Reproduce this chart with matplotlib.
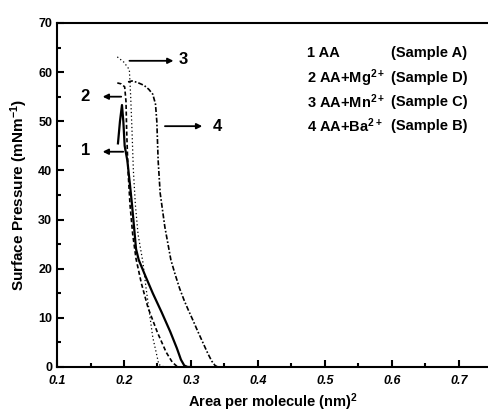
import matplotlib
matplotlib.use("Agg")
import matplotlib.pyplot as plt
from matplotlib.ticker import MultipleLocator

plt.rcParams['font.family'] = ['Liberation Sans', 'DejaVu Sans']
plt.rcParams['mathtext.fontset'] = 'custom'
plt.rcParams['mathtext.rm'] = 'Liberation Sans:bold'
plt.rcParams['mathtext.default'] = 'rm'

# isotherm curves: area per molecule (nm^2) vs surface pressure (mN/m)
area_1 = [0.191, 0.194, 0.197, 0.199, 0.201, 0.205, 0.209, 0.212, 0.215, 0.218, 0.222,
          0.232, 0.243, 0.256, 0.269, 0.279, 0.285, 0.290, 0.295, 0.300]
pres_1 = [45.5, 50.0, 53.3, 50.0, 45.0, 42.0, 37.0, 33.0, 28.5, 24.0, 21.8,
          18.5, 15.0, 11.2, 7.2, 3.8, 1.5, 0.3, 0.0, 0.0]

area_2 = [0.190, 0.196, 0.201, 0.203, 0.204, 0.206, 0.209, 0.213, 0.218, 0.226,
          0.236, 0.250, 0.263, 0.272, 0.280, 0.300]
pres_2 = [57.8, 57.6, 57.0, 54.0, 48.0, 40.0, 33.0, 27.0, 22.0, 17.0,
          12.0, 7.0, 3.0, 1.0, 0.0, 0.0]

area_3 = [0.190, 0.200, 0.208, 0.210, 0.212, 0.214, 0.217, 0.221, 0.228, 0.233,
          0.238, 0.243, 0.248, 0.252, 0.260, 0.290]
pres_3 = [63.1, 62.0, 60.5, 55.0, 48.0, 40.0, 33.0, 27.0, 21.5, 16.0,
          11.0, 6.0, 3.0, 0.5, 0.0, 0.0]

area_4 = [0.206, 0.212, 0.220, 0.230, 0.237, 0.243, 0.247, 0.249, 0.251, 0.254,
          0.261, 0.270, 0.276, 0.283, 0.290, 0.296, 0.303, 0.310, 0.318, 0.325,
          0.331, 0.336, 0.340, 0.350]
pres_4 = [58.0, 58.2, 57.9, 57.3, 56.5, 55.5, 53.5, 50.0, 42.0, 35.4,
          28.5, 21.8, 19.0, 16.0, 13.5, 11.6, 9.5, 7.3, 4.9, 2.8,
          1.2, 0.3, 0.0, 0.0]

legend_left = ["1 AA", "2 AA+Mg$^{2+}$", "3 AA+Mn$^{2+}$", "4 AA+Ba$^{2+}$"]
legend_right = ["(Sample A)", "(Sample D)", "(Sample C)", "(Sample B)"]
legend_y = [63.9, 58.8, 53.9, 49.0]

fig = plt.figure(figsize=(4.89, 4.13), dpi=100)
ax = fig.add_axes([0.1166, 0.1114, 0.8834, 0.833])

ax.plot(area_1, pres_1, color='k', lw=1.6, ls='-')
ax.plot(area_2, pres_2, color='k', lw=1.2, ls=(0, (2.5, 1.5)))
ax.plot(area_3, pres_3, color='k', lw=0.9, ls=(0, (1, 2)))
ax.plot(area_4, pres_4, color='k', lw=1.2, ls=(0, (3, 1.2, 1, 1.2)))

arrow = dict(arrowstyle='-|>', color='k', lw=1.3, mutation_scale=8)
ax.annotate('', xy=(0.278, 62.3), xytext=(0.204, 62.3), arrowprops=arrow)
ax.annotate('', xy=(0.164, 55.0), xytext=(0.200, 55.0), arrowprops=arrow)
ax.annotate('', xy=(0.164, 43.8), xytext=(0.203, 43.8), arrowprops=arrow)
ax.annotate('', xy=(0.321, 49.0), xytext=(0.257, 49.0), arrowprops=arrow)
lbl = dict(fontsize=12, fontweight='bold', va='center', ha='center')
ax.text(0.288, 62.6, '3', **lbl)
ax.text(0.142, 55.0, '2', **lbl)
ax.text(0.143, 44.0, '1', **lbl)
ax.text(0.339, 49.0, '4', **lbl)

for left, right, yy in zip(legend_left, legend_right, legend_y):
    ax.text(0.473, yy, left, fontsize=10.5, fontweight='bold', va='center', ha='left')
    ax.text(0.598, yy, right, fontsize=10.5, fontweight='bold', va='center', ha='left')

ax.set_xlim(0.1, 0.745)
ax.set_ylim(0, 70)
ax.xaxis.set_major_locator(MultipleLocator(0.1))
ax.xaxis.set_minor_locator(MultipleLocator(0.05))
ax.yaxis.set_major_locator(MultipleLocator(10))
ax.yaxis.set_minor_locator(MultipleLocator(5))
ax.tick_params(which='both', direction='in', top=False, right=False, width=1.5)
ax.tick_params(which='major', length=5, labelsize=9)
ax.tick_params(which='minor', length=3)
ax.tick_params(axis='x', which='major', pad=6)
for lab in ax.get_xticklabels() + ax.get_yticklabels():
    lab.set_fontweight('bold')
for lab in ax.get_xticklabels():
    lab.set_fontstyle('italic')
ax.spines['right'].set_visible(False)
for s in ['left', 'bottom', 'top']:
    ax.spines[s].set_linewidth(1.5)

ax.set_xlabel('Area per molecule (nm)$^2$', fontsize=10.5, fontweight='bold', labelpad=3)
ax.set_ylabel('Surface Pressure (mNm$^{-1}$)', fontsize=11, fontweight='bold', labelpad=6)

fig.savefig('out.png', dpi=100)
